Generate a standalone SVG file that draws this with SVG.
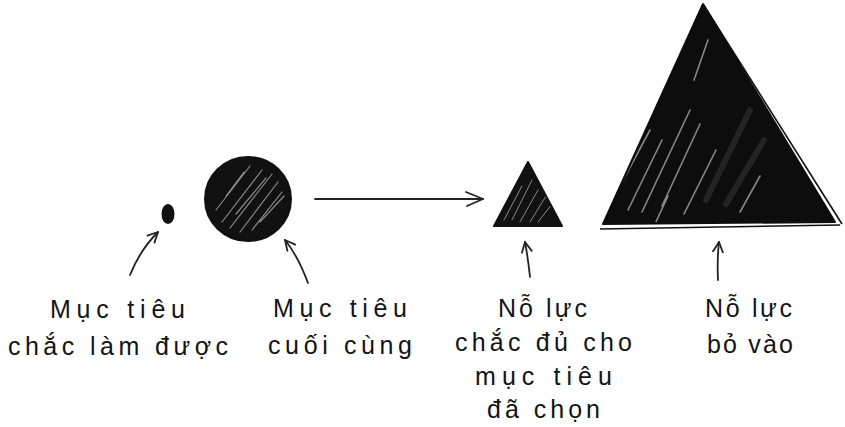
<svg xmlns="http://www.w3.org/2000/svg" width="845" height="427" viewBox="0 0 845 427">
  <style>
    .lbl { font-family: "Liberation Sans", "DejaVu Sans", sans-serif; font-size: 25px; fill: #141414; }
    .ink { fill: #111; stroke: #111; stroke-width: 2; stroke-linejoin: round; }
    .streak { stroke: #fff; stroke-linecap: round; fill: none; opacity: 0.5; }
    .conn { fill: none; stroke: #222; stroke-width: 1.8; stroke-linecap: round; }
  </style>
  <defs>
    <marker id="headSmall" markerUnits="userSpaceOnUse" markerWidth="14" markerHeight="14" refX="11" refY="6" orient="auto">
      <path d="M1,1 L11,6 L1,11" fill="none" stroke="#222" stroke-width="1.8" stroke-linecap="round" stroke-linejoin="round"/>
    </marker>
    <marker id="headBig" markerUnits="userSpaceOnUse" markerWidth="22" markerHeight="18" refX="18" refY="8" orient="auto">
      <path d="M1,1 L18,8 L2,15" fill="none" stroke="#222" stroke-width="1.8" stroke-linecap="round" stroke-linejoin="round"/>
    </marker>
    <clipPath id="clipCircle"><ellipse cx="248" cy="199" rx="41" ry="40"/></clipPath>
    <clipPath id="clipSmallTri"><polygon points="528,164 496,224 560,224"/></clipPath>
    <clipPath id="clipBigTri"><polygon points="703,8 605,222 836,222"/></clipPath>
  </defs>
  <rect width="845" height="427" fill="#fff"/>

  <g id="node-small-goal">
    <ellipse cx="168" cy="214" rx="5.5" ry="9" class="ink"/>
    <text class="lbl" x="50" y="318" textLength="135" lengthAdjust="spacing">Mục tiêu</text>
    <text class="lbl" x="8" y="355" textLength="220" lengthAdjust="spacing">chắc làm được</text>
  </g>

  <g id="node-final-goal">
    <ellipse cx="248" cy="199" rx="43" ry="42" class="ink"/>
    <g clip-path="url(#clipCircle)">
      <path class="streak" stroke-width="1.2" d="M222,222 L262,170 M230,228 L272,174 M240,232 L278,182 M216,210 L250,166 M252,230 L282,192 M226,196 L244,172 M236,214 L266,178 M260,222 L284,196"/>
    </g>
    <text class="lbl" x="273" y="317" textLength="134" lengthAdjust="spacing">Mục tiêu</text>
    <text class="lbl" x="268" y="354" textLength="144" lengthAdjust="spacing">cuối cùng</text>
  </g>

  <g id="node-effort-enough">
    <polygon points="528,162 494,226 562,226" class="ink"/>
    <g clip-path="url(#clipSmallTri)">
      <path class="streak" stroke-width="1" d="M512,220 L532,180 M520,222 L538,190 M530,222 L546,196 M504,220 L522,186 M538,222 L552,204"/>
    </g>
    <text class="lbl" x="498" y="317" textLength="89" lengthAdjust="spacing">Nỗ lực</text>
    <text class="lbl" x="455" y="351" textLength="177" lengthAdjust="spacing">chắc đủ cho</text>
    <text class="lbl" x="475" y="385" textLength="137" lengthAdjust="spacing">mục tiêu</text>
    <text class="lbl" x="487" y="418" textLength="113" lengthAdjust="spacing">đã chọn</text>
  </g>

  <g id="node-effort-spent">
    <polygon points="703,4 603,224 835,222" fill="#0d0d0d" stroke="#0d0d0d" stroke-width="2" stroke-linejoin="round"/>
    <path d="M703,4 L842,224" fill="none" stroke="#111" stroke-width="1.6"/>
    <path d="M600,229 L840,225" fill="none" stroke="#111" stroke-width="1.6"/>
    <g clip-path="url(#clipBigTri)">
      <path class="streak" stroke-width="1.6" d="M628,210 L662,140 M642,212 L690,110 M662,206 L700,124 M684,214 L716,150 M620,186 L650,130 M694,80 L708,40 M654,226 L668,196 M740,212 L760,176"/>
      <path stroke="#3a3a3a" stroke-width="6" opacity="0.5" fill="none" stroke-linecap="round" d="M706,200 L750,110 M726,204 L764,140"/>
    </g>
    <text class="lbl" x="705" y="317" textLength="87" lengthAdjust="spacing">Nỗ lực</text>
    <text class="lbl" x="707" y="353" textLength="86" lengthAdjust="spacing">bỏ vào</text>
  </g>

  <g id="connectors">
    <path class="conn" d="M130,275 Q140,250 158,232" marker-end="url(#headSmall)"/>
    <path class="conn" d="M308,283 Q298,256 285,240" marker-end="url(#headSmall)"/>
    <path class="conn" d="M315,199 L483,199" marker-end="url(#headBig)"/>
    <path class="conn" d="M530,277 Q528,258 525,242" marker-end="url(#headSmall)"/>
    <path class="conn" d="M718,280 Q717,260 719,242" marker-end="url(#headSmall)"/>
  </g>
</svg>
